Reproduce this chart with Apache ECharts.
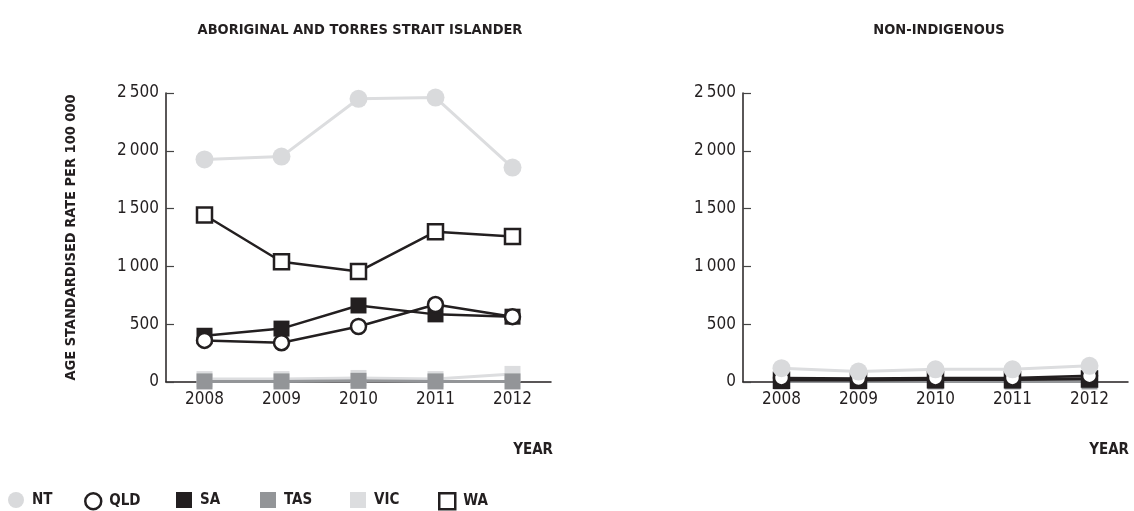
<!DOCTYPE html>
<html>
<head>
<meta charset="utf-8">
<script src="https://cdn.jsdelivr.net/npm/echarts@6/dist/echarts.min.js"></script>
<style>
  html, body { margin: 0; padding: 0; background: #fff; }
  #main { width: 1134px; height: 511px; }
</style>
</head>
<body>
<div id="main"></div>
<script>
// categories
var years = ['2008', '2009', '2010', '2011', '2012'];
var yTicks = [0, 500, 1000, 1500, 2000, 2500];

// Aboriginal and Torres Strait Islander
var ntInd = [1925, 1950, 2450, 2460, 1855];
var qldInd = [360, 340, 480, 670, 565];
var saInd = [400, 462, 662, 585, 565];
var tasInd = [5, 5, 10, 5, 5];
var vicInd = [25, 25, 35, 25, 70];
var waInd = [1445, 1040, 955, 1300, 1258];

// Non-Indigenous
var ntNon = [120, 90, 110, 110, 140];
var qldNon = [35, 30, 35, 35, 55];
var saNon = [25, 20, 25, 25, 30];
var tasNon = [5, 5, 5, 5, 5];
var vicNon = [10, 10, 10, 10, 15];
var waNon = [15, 15, 20, 20, 25];

var FONT = "'Liberation Sans Narrow', 'DejaVu Sans Condensed', sans-serif";
var INK = '#231f20';

var styles = {
  NT:  { symbol: 'circle', size: 18, fill: '#d9dadc', border: '#d9dadc', bw: 0, line: '#dcdddf', lw: 3, z: 7 },
  QLD: { symbol: 'circle', size: 15, fill: '#fff', border: INK, bw: 2.5, line: INK, lw: 2.5, z: 6 },
  SA:  { symbol: 'rect', size: 16, fill: INK, border: INK, bw: 0, line: INK, lw: 2.5, z: 5 },
  TAS: { symbol: 'rect', size: 16, fill: '#939598', border: '#939598', bw: 0, line: '#939598', lw: 3, z: 3 },
  VIC: { symbol: 'rect', size: 16, fill: '#dcdddf', border: '#dcdddf', bw: 0, line: '#dcdddf', lw: 3, z: 2 },
  WA:  { symbol: 'rect', size: 15, fill: '#fff', border: INK, bw: 2.5, line: INK, lw: 2.5, z: 4 }
};

var left = { NT: ntInd, QLD: qldInd, SA: saInd, TAS: tasInd, VIC: vicInd, WA: waInd };
var right = { NT: ntNon, QLD: qldNon, SA: saNon, TAS: tasNon, VIC: vicNon, WA: waNon };
var names = ['NT', 'QLD', 'SA', 'TAS', 'VIC', 'WA'];
var legendX = [8, 84, 176, 260, 350, 438];

function makeSeries(name, data, idx) {
  var s = styles[name];
  return {
    name: name,
    type: 'line',
    xAxisIndex: idx,
    yAxisIndex: idx,
    data: data,
    symbol: s.symbol,
    symbolSize: s.size,
    z: s.z,
    lineStyle: { color: s.line, width: s.lw },
    itemStyle: { color: s.fill, borderColor: s.border, borderWidth: s.bw },
    emphasis: { disabled: true },
    animation: false
  };
}

var series = [];
names.forEach(function (n) {
  series.push(makeSeries(n, left[n], 0));
  series.push(makeSeries(n, right[n], 1));
});

function fmt(v) {
  return v >= 1000 ? String(v).replace(/(\d)(\d{3})$/, '$1\u2009$2') : String(v);
}

function yAxis(gi, withName) {
  return {
    type: 'value',
    gridIndex: gi,
    min: yTicks[0],
    max: yTicks[yTicks.length - 1],
    interval: 500,
    name: withName ? 'AGE STANDARDISED RATE PER 100 000' : '',
    nameLocation: 'middle',
    nameRotate: 90,
    nameGap: 87,
    nameTextStyle: { fontFamily: FONT, fontWeight: 'bold', fontSize: 14.5, color: INK },
    axisLine: { show: true, lineStyle: { color: INK, width: 1.5 } },
    axisTick: { show: true, inside: true, length: 8, lineStyle: { color: '#444', width: 1.2 } },
    splitLine: { show: false },
    axisLabel: { fontFamily: FONT, fontSize: 17, color: INK, margin: 7, formatter: fmt }
  };
}

function xAxis(gi) {
  return {
    type: 'category',
    gridIndex: gi,
    data: years,
    boundaryGap: true,
    axisLine: { lineStyle: { color: INK, width: 1.5 } },
    axisTick: { show: false },
    axisLabel: { fontFamily: FONT, fontSize: 17, color: INK, margin: 9 }
  };
}

var chart = echarts.init(document.getElementById('main'));
chart.setOption({
  animation: false,
  title: [
    { text: 'ABORIGINAL AND TORRES STRAIT ISLANDER', left: 355, top: 18, textAlign: 'center',
      textStyle: { fontFamily: FONT, fontWeight: 'bold', fontSize: 14.5, color: INK } },
    { text: 'NON-INDIGENOUS', left: 934, top: 18, textAlign: 'center',
      textStyle: { fontFamily: FONT, fontWeight: 'bold', fontSize: 14.5, color: INK } }
  ],
  grid: [
    { left: 166, width: 385, top: 93, bottom: 129, containLabel: false },
    { left: 743, width: 385, top: 93, bottom: 129, containLabel: false }
  ],
  xAxis: [xAxis(0), xAxis(1)],
  yAxis: [yAxis(0, true), yAxis(1, false)],
  legend: names.map(function (n, i) {
    var s = styles[n];
    return {
      data: [{ name: n, icon: s.symbol, itemStyle: { color: s.fill, borderColor: s.border, borderWidth: s.bw } }],
      left: legendX[i],
      top: 492,
      padding: 0,
      itemWidth: 16,
      itemHeight: 16,
      itemGap: 0,
      selectedMode: false,
      textStyle: { fontFamily: FONT, fontWeight: 'bold', fontSize: 15, color: INK, padding: [0, 0, 0, 3] }
    };
  }),
  graphic: [
    { type: 'text', right: 581, top: 443, style: { text: 'YEAR', font: 'bold 15px ' + FONT, fill: INK } },
    { type: 'text', right: 5, top: 443, style: { text: 'YEAR', font: 'bold 15px ' + FONT, fill: INK } }
  ],
  series: series
});
</script>
</body>
</html>
